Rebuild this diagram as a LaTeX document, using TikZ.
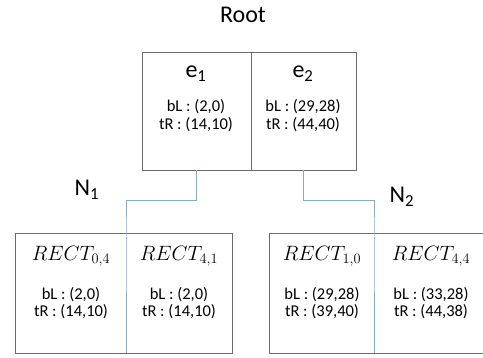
\documentclass[tikz,border=0pt]{standalone}
\usepackage{fontspec}
\setmainfont{Carlito}
\definecolor{boxline}{HTML}{6A6A6A}
\definecolor{link}{HTML}{8AAAC0}
\tikzset{
  boxl/.style={draw=boxline, line width=0.9pt},
  linkl/.style={draw=link, line width=0.9pt},
  big/.style={inner sep=0pt, font=\fontsize{24}{28}\selectfont},
  small/.style={inner sep=0pt, font=\fontsize{16.5}{19}\selectfont},
  recttxt/.style={inner sep=0pt, font=\fontsize{20}{24}\selectfont},
}
\begin{document}
\begin{tikzpicture}[x=1pt,y=-1pt]
\useasboundingbox (0,0) rectangle (483,358);
% root box
\draw[boxl] (142,52) rectangle (356,170);
\draw[boxl] (251,52) -- (251,170);
\node[big] (root) at (243,15) {Root};
\node[big] (e1) at (196,74) {e\textsubscript{1}};
\node[big] (e2) at (303,74) {e\textsubscript{2}};
\node[small] (e1b) at (196,107) {bL : (2,0)};
\node[small] (e1t) at (196,125) {tR : (14,10)};
\node[small] (e2b) at (303,107) {bL : (29,28)};
\node[small] (e2t) at (303,125) {tR : (44,40)};
% bottom boxes
\draw[boxl] (15,233) rectangle (232,353);
\draw[boxl] (269,233) rectangle (487,353);
% connectors
\coordinate (p1) at (196,170);
\coordinate (q1) at (126,233);
\coordinate (r1) at (126,353);
\coordinate (p2) at (303,170);
\coordinate (q2) at (374,233);
\coordinate (r2) at (374,353);
\draw[linkl] (p1) -- (196,200) -| (q1) -- (r1);
\draw[linkl] (p2) -- (303,200) -| (q2) -- (r2);
\node[big] (n1) at (87,190) {N\textsubscript{1}};
\node[big] (n2) at (402,197) {N\textsubscript{2}};
% bottom texts
\node[recttxt] (r04) at (71,256) {$RECT_{0,4}$};
\node[recttxt] (r41) at (179,256) {$RECT_{4,1}$};
\node[recttxt] (r10) at (322,256) {$RECT_{1,0}$};
\node[recttxt] (r44) at (431,256) {$RECT_{4,4}$};
\node[small] (a1) at (71,295) {bL : (2,0)};
\node[small] (a2) at (71,312) {tR : (14,10)};
\node[small] (b1) at (179,295) {bL : (2,0)};
\node[small] (b2) at (179,312) {tR : (14,10)};
\node[small] (c1) at (322,295) {bL : (29,28)};
\node[small] (c2) at (322,312) {tR : (39,40)};
\node[small] (d1) at (431,295) {bL : (33,28)};
\node[small] (d2) at (431,312) {tR : (44,38)};
\end{tikzpicture}
\end{document}
